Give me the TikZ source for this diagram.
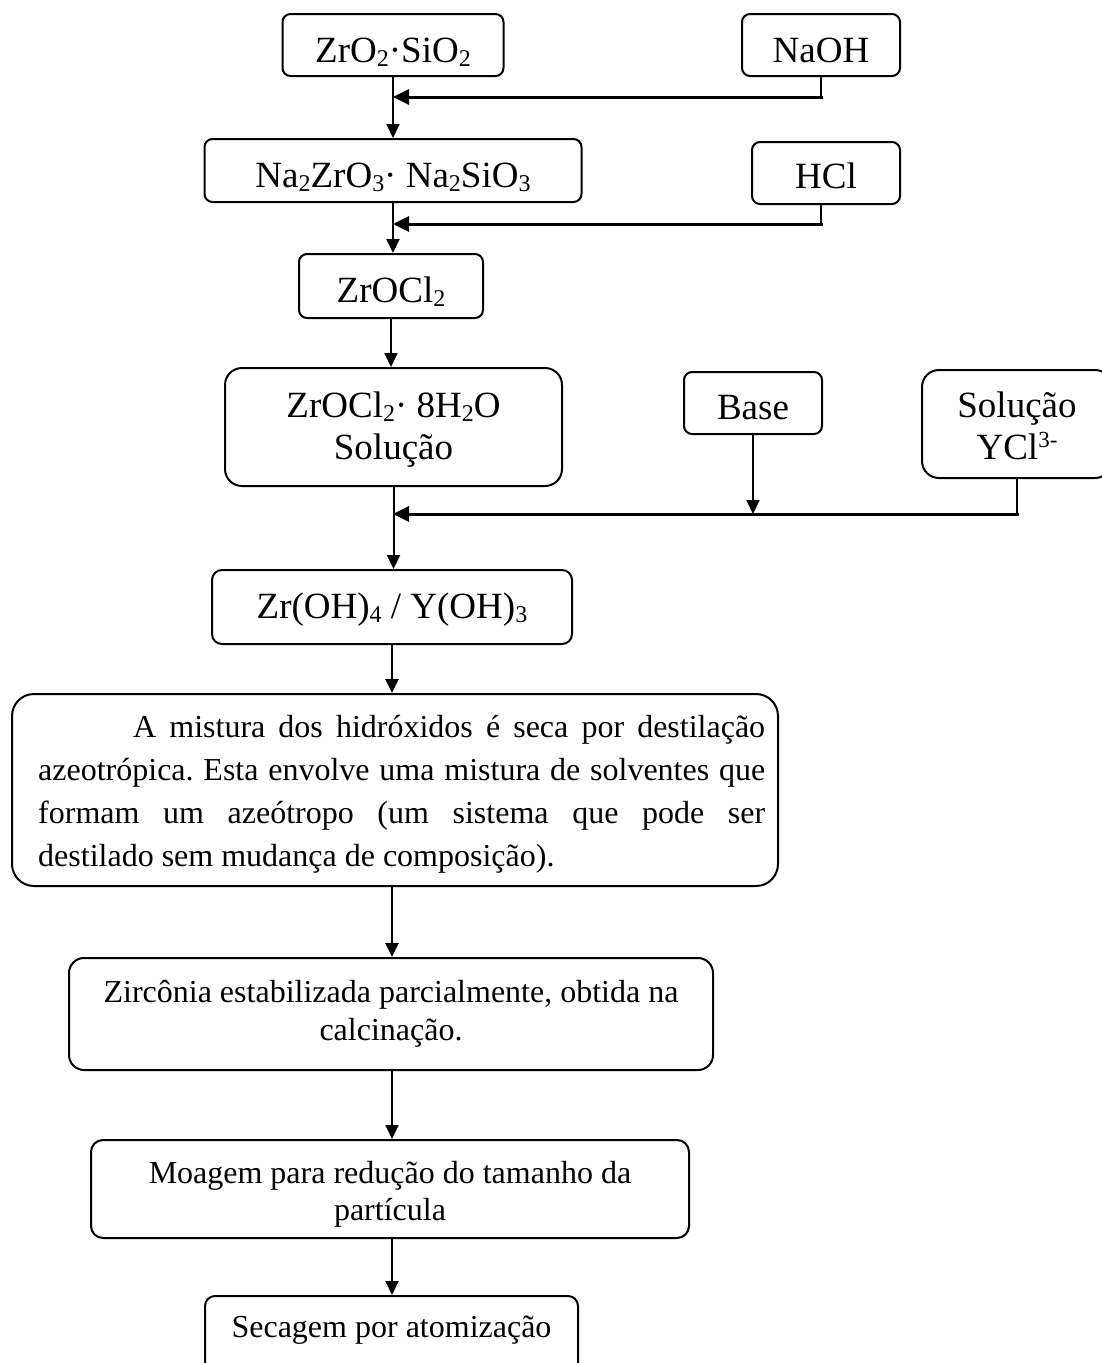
\documentclass[tikz,border=0pt]{standalone}
\usepackage{fontspec}
\setmainfont{Liberation Serif}
\usetikzlibrary{arrows.meta}
% chemical indices for the 37pt labels
\newcommand{\chemsub}[1]{\raisebox{-4.5pt}{\fontsize{24}{24}\selectfont #1}}
\newcommand{\chemsup}[1]{\raisebox{12pt}{\fontsize{23}{23}\selectfont #1}}
% interword spacing: font default (justified) or rigid (centred lines)
\newcommand{\plainspaces}{\spaceskip=0pt\xspaceskip=0pt\frenchspacing}
\newcommand{\rigidspaces}{\spaceskip=\fontdimen2\font\relax\xspaceskip=\fontdimen2\font\relax}
\begin{document}
\begin{tikzpicture}[x=1pt,y=-1pt,
  box/.style={draw, line width=2pt, rounded corners=#1, inner sep=0pt},
  box/.default=8pt,
  bigtxt/.style={font=\fontsize{37}{42.5}\selectfont, inner sep=0pt},
  smalltxt/.style={font=\fontsize{32}{37.5}\selectfont, inner sep=0pt},
  flow/.style={line width=2pt, -{Triangle[length=14pt,width=13pt]}},
  feed/.style={line width=3pt, line cap=rect, -{Triangle[length=16pt,width=15pt]}},
  stub/.style={line width=2pt},
]
\useasboundingbox (0,0) rectangle (1102,1363);
\fill[white] (0,0) rectangle (1102,1363);

% ---- boxes ----
\node[box, minimum width=221pt, minimum height=62pt] (zs) at (393,45) {};
\node[box, minimum width=158pt, minimum height=62pt] (naoh) at (821,45) {};
\node[box, minimum width=377pt, minimum height=63pt] (nz) at (393,170.5) {};
\node[box, minimum width=148pt, minimum height=62pt] (hcl) at (826,173) {};
\node[box, minimum width=184pt, minimum height=64pt] (zc) at (391,286) {};
\node[box=17pt, minimum width=337pt, minimum height=118pt] (zh) at (393.5,427) {};
\node[box, minimum width=138pt, minimum height=62pt] (base) at (753,403) {};
\node[box=17pt, minimum width=190pt, minimum height=108pt] (ycl) at (1017,424) {};
\node[box=10pt, minimum width=360pt, minimum height=74pt] (zoh) at (392,607) {};
\node[box=22pt, minimum width=766pt, minimum height=192pt] (mix) at (395,790) {};
\node[box=15pt, minimum width=644pt, minimum height=112pt] (zirc) at (391,1014) {};
\node[box=12pt, minimum width=598pt, minimum height=98pt] (moag) at (390,1189) {};
\node[box=10pt, minimum width=373pt, minimum height=84pt] (sec) at (391.5,1338) {};

% ---- texts ----
\node[bigtxt, anchor=base] (zs-t) at (393,62) {ZrO\chemsub{2}·SiO\chemsub{2}};
\node[bigtxt, anchor=base] (naoh-t) at (821,62) {NaOH};
\node[bigtxt, anchor=base] (nz-t) at (393,187) {Na\chemsub{2}ZrO\chemsub{3}· Na\chemsub{2}SiO\chemsub{3}};
\node[bigtxt, anchor=base] (hcl-t) at (826,188) {HCl};
\node[bigtxt, anchor=base] (zc-t) at (391,302) {ZrOCl\chemsub{2}};
\node[bigtxt, anchor=base, text width=330pt, align=center] (zh-t) at (393.5,417)
  {\rigidspaces ZrOCl\chemsub{2}· 8H\chemsub{2}O\\Solução};
\node[bigtxt, anchor=base] (base-t) at (753,419) {Base};
\node[bigtxt, anchor=base, text width=190pt, align=center] (ycl-t) at (1017,417)
  {Solução\\YCl\chemsup{3-}};
\node[bigtxt, anchor=base] (zoh-t) at (392,618) {Zr(OH)\chemsub{4} / Y(OH)\chemsub{3}};
\node[anchor=base west, inner sep=0pt, text width=727pt, align=justify,
      font=\fontsize{32}{43}\selectfont] (mix-t) at (38,737)
  {\plainspaces\hspace*{95pt}\makebox[632pt][s]{A mistura dos hidróxidos é seca por destilação}\\
   \makebox[727pt][s]{azeotrópica. Esta envolve uma mistura de solventes que}\\
   \makebox[727pt][s]{formam um azeótropo (um sistema que pode ser}\\
   destilado sem mudança de composição).};
\node[smalltxt, anchor=base, text width=640pt, align=center, font=\fontsize{32}{38}\selectfont] (zirc-t) at (391,1002)
  {\rigidspaces Zircônia estabilizada parcialmente, obtida na\\calcinação.};
\node[smalltxt, anchor=base, text width=590pt, align=center] (moag-t) at (390,1183)
  {\rigidspaces Moagem para redução do tamanho da\\partícula};
\node[smalltxt, anchor=base] (sec-t) at (391.5,1337) {Secagem por atomização};

% ---- junctions on the main line ----
\coordinate (j1) at (393,97);
\coordinate (j2) at (393,224);
\coordinate (j3) at (393,514);

% ---- main flow ----
\draw[flow] (zs.south) -- (zs.south |- nz.north);
\draw[flow] (nz.south) -- (nz.south |- zc.north);
\draw[flow] (zc.south) -- (zc.south |- zh.north);
\draw[flow] (zh.south) -- (zh.south |- zoh.north);
\draw[flow] (zoh.south) -- (zoh.south |- mix.north);
\draw[flow] (mix.south -| zoh.south) -- (zoh.south |- zirc.north);
\draw[flow] (zirc.south -| zoh.south) -- (zoh.south |- moag.north);
\draw[flow] (moag.south -| zoh.south) -- (zoh.south |- sec.north);

% ---- side feeds ----
\draw[stub] (naoh.south) -- (naoh.south |- j1);
\draw[feed] (naoh.south |- j1) -- (j1);
\draw[stub] (hcl.south -| naoh.south) -- (naoh.south |- j2);
\draw[feed] (naoh.south |- j2) -- (j2);
\draw[flow] (base.south) -- (base.south |- j3);
\draw[stub] (ycl.south) -- (ycl.south |- j3);
\draw[feed] (ycl.south |- j3) -- (j3);
\end{tikzpicture}
\end{document}
